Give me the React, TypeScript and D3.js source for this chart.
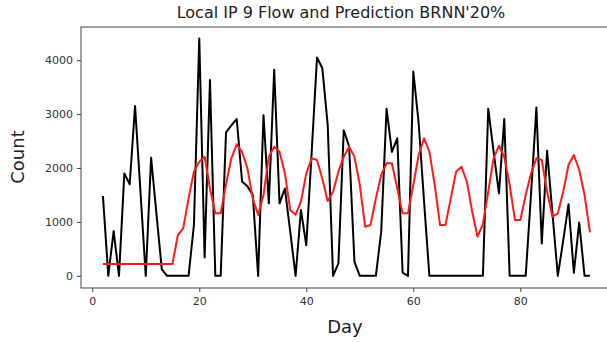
import React, { useEffect, useRef } from 'react';
import * as d3 from 'd3';

// day numbers run from 2 to 93
const days: number[] = d3.range(2, 94);

const flow: number[] = [
  1480, 0, 830, 0, 1900, 1700, 3150, 1580, 0, 2190,
  1150, 120, 0, 0, 0, 0, 0, 940, 4400, 340,
  3630, 0, 0, 2660, 2790, 2910, 1750, 1660, 1500, 0,
  2980, 1345, 3820, 1345, 1620, 820, 0, 1220, 570, 2280,
  4050, 3850, 2800, 0, 230, 2700, 2400, 260, 0, 0,
  0, 0, 820, 3100, 2300, 2550, 60, 0, 3790, 2830,
  1390, 0, 0, 0, 0, 0, 0, 0, 0, 0,
  0, 0, 3100, 2310, 1530, 2910, 0, 0, 0, 0,
  1530, 3120, 600, 2320, 1160, 0, 650, 1330, 60, 990,
  0, 0
];

const prediction: number[] = [
  220, 220, 220, 220, 220, 220, 220, 220, 220, 220,
  220, 220, 220, 220, 757, 881, 1437, 1932, 2117, 2210,
  1620, 1160, 1160, 1700, 2180, 2440, 2300, 1994, 1437, 1130,
  1500, 2210, 2396, 2303, 1901, 1220, 1134, 1375, 1901, 2180,
  2149, 1800, 1390, 1560, 1932, 2210, 2396, 2210, 1685, 912,
  943, 1437, 1870, 2087, 2087, 1623, 1159, 1159, 1685, 2241,
  2551, 2303, 1685, 943, 943, 1437, 1932, 2024, 1746, 1190,
  726, 961, 1561, 2180, 2414, 2210, 1685, 1035, 1035, 1499,
  1901, 2180, 2149, 1561, 1097, 1159, 1561, 2056, 2241, 1963,
  1499, 807
];

const xTicks: number[] = [0, 20, 40, 60, 80];
const yTicks: number[] = [0, 1000, 2000, 3000, 4000];

export default function App() {
  const ref = useRef<SVGSVGElement>(null);

  useEffect(() => {
    const svg = d3.select(ref.current);
    svg.selectAll('*').remove();

    const left = 81, right = 614, top = 27, bottom = 288;
    const font = 'DejaVu Sans, sans-serif';

    const x = d3.scaleLinear().domain([-2.1, 97.5]).range([left, right]);
    const y = d3.scaleLinear().domain([-225, 4615]).range([bottom, top]);

    // lines
    const line = d3.line<number>()
      .x((d, i) => x(days[i]))
      .y(d => y(d));

    svg.append('path')
      .datum(flow)
      .attr('d', line)
      .attr('fill', 'none')
      .attr('stroke', '#000')
      .attr('stroke-width', 2)
      .attr('stroke-linejoin', 'round');

    svg.append('path')
      .datum(prediction)
      .attr('d', line)
      .attr('fill', 'none')
      .attr('stroke', '#ff1a1a')
      .attr('stroke-width', 2)
      .attr('stroke-linejoin', 'round');

    // frame
    svg.append('rect')
      .attr('x', left)
      .attr('y', top)
      .attr('width', right - left)
      .attr('height', bottom - top)
      .attr('fill', 'none')
      .attr('stroke', '#444')
      .attr('stroke-width', 1);

    // x axis
    const gx = svg.append('g')
      .attr('transform', `translate(0,${bottom})`)
      .call(d3.axisBottom(x).tickValues(xTicks).tickSize(4).tickPadding(5));
    gx.select('.domain').remove();
    gx.selectAll('line').attr('stroke', '#444');
    gx.selectAll('text').attr('font-family', font).attr('font-size', 11).attr('fill', '#333');

    // y axis
    const gy = svg.append('g')
      .attr('transform', `translate(${left},0)`)
      .call(d3.axisLeft(y).tickValues(yTicks).tickFormat(d3.format('d')).tickSize(4).tickPadding(4));
    gy.select('.domain').remove();
    gy.selectAll('line').attr('stroke', '#444');
    gy.selectAll('text').attr('font-family', font).attr('font-size', 11).attr('fill', '#333');

    svg.append('text')
      .attr('x', 341)
      .attr('y', 18)
      .attr('text-anchor', 'middle')
      .attr('font-family', font)
      .attr('font-size', 16)
      .attr('fill', '#222')
      .text("Local IP 9 Flow and Prediction BRNN'20%");

    svg.append('text')
      .attr('x', 345)
      .attr('y', 333)
      .attr('text-anchor', 'middle')
      .attr('font-family', font)
      .attr('font-size', 18)
      .attr('fill', '#222')
      .text('Day');

    svg.append('text')
      .attr('transform', 'translate(24,157) rotate(-90)')
      .attr('text-anchor', 'middle')
      .attr('font-family', font)
      .attr('font-size', 18)
      .attr('fill', '#222')
      .text('Count');
  }, []);

  return (
    <svg ref={ref} width={607} height={342}
      style={{ position: 'absolute', left: 0, top: 0, background: '#fff' }} />
  );
}
